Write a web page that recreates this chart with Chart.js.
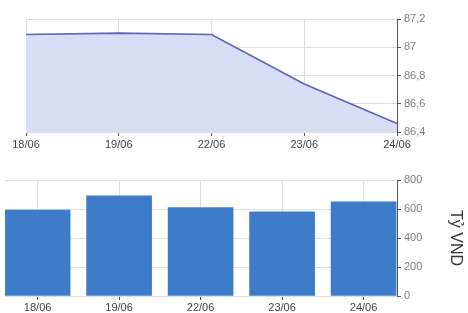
<!DOCTYPE html>
<html>
<head>
<meta charset="utf-8">
<script src="https://cdn.jsdelivr.net/npm/chart.js@4"></script>
<style>
  html, body { margin: 0; padding: 0; background: #fff; overflow: hidden; }
  .box { position: absolute; left: 0; width: 468px; }
  #top { top: 0; height: 160px; }
  #bottom { top: 160px; height: 153px; }
</style>
</head>
<body>
<div class="box" id="top"><canvas id="chartRate"></canvas></div>
<div class="box" id="bottom"><canvas id="chartVolume"></canvas></div>
<script>
  const dates = ['18/06', '19/06', '22/06', '23/06', '24/06'];
  const rateValues = [87.09, 87.10, 87.09, 86.74, 86.46];
  const volumeValues = [593, 690, 609, 581, 650];
  const volumeTitle = 'Tỷ VND';

  const fontFamily = '"Liberation Sans", Arial, sans-serif';
  const gridColor = '#dedede';
  const axisColor = '#555';
  const tickText = '#808080';
  const labelText = '#444';

  function comma(v) {
    return String(Math.round(v * 10) / 10).replace('.', ',');
  }

  new Chart(document.getElementById('chartRate'), {
    type: 'line',
    data: {
      labels: dates,
      datasets: [{
        data: rateValues,
        borderColor: '#6262b8',
        borderWidth: 1.6,
        backgroundColor: '#d5def4',
        fill: 'start',
        tension: 0,
        pointRadius: 0,
      }],
    },
    options: {
      responsive: true,
      maintainAspectRatio: false,
      animation: false,
      layout: { padding: { left: 26, top: 19, right: 0, bottom: 0 } },
      plugins: { legend: { display: false }, tooltip: { enabled: false } },
      scales: {
        x: {
          offset: false,
          border: { display: false },
          grid: { color: gridColor, tickColor: axisColor, tickLength: 4 },
          ticks: { color: labelText, font: { family: fontFamily, size: 11 }, padding: 2, maxRotation: 0 },
          afterFit: function (s) { s.height = 28; },
        },
        y: {
          position: 'right',
          min: 86.4,
          max: 87.2,
          border: { display: true, color: axisColor },
          grid: { color: gridColor, tickColor: axisColor, tickLength: 4 },
          ticks: { stepSize: 0.2, color: tickText, font: { family: fontFamily, size: 11 }, padding: 3, callback: comma },
          afterFit: function (s) { s.width = 71; },
        },
      },
    },
  });

  new Chart(document.getElementById('chartVolume'), {
    type: 'bar',
    data: {
      datasets: [{
        data: volumeValues.map(function (v, i) { return { x: i, y: v }; }),
        backgroundColor: '#3d7cc9',
        barThickness: 65,
      }],
    },
    options: {
      responsive: true,
      maintainAspectRatio: false,
      animation: false,
      layout: { padding: { left: 5, top: 20, right: 0, bottom: 0 } },
      plugins: { legend: { display: false }, tooltip: { enabled: false } },
      scales: {
        x: {
          type: 'linear',
          min: -0.4,
          max: 4.41,
          offset: false,
          border: { display: false },
          grid: { offset: false, color: gridColor, tickColor: axisColor, tickLength: 4 },
          afterBuildTicks: function (s) { s.ticks = dates.map(function (d, i) { return { value: i }; }); },
          ticks: {
            color: labelText, font: { family: fontFamily, size: 11 }, padding: 1, maxRotation: 0,
            callback: function (v) { return dates[v]; },
          },
          afterFit: function (s) { s.height = 17; },
        },
        y: {
          position: 'right',
          min: 0,
          max: 800,
          border: { display: true, color: axisColor },
          grid: { color: gridColor, tickColor: axisColor, tickLength: 4 },
          ticks: { stepSize: 200, color: tickText, font: { family: fontFamily, size: 11 }, padding: 3 },
          title: { display: true, text: volumeTitle, color: '#333', font: { family: fontFamily, size: 16 }, padding: { top: 3, bottom: 0 } },
          afterFit: function (s) { s.width = 71; },
        },
      },
    },
  });
</script>
</body>
</html>
